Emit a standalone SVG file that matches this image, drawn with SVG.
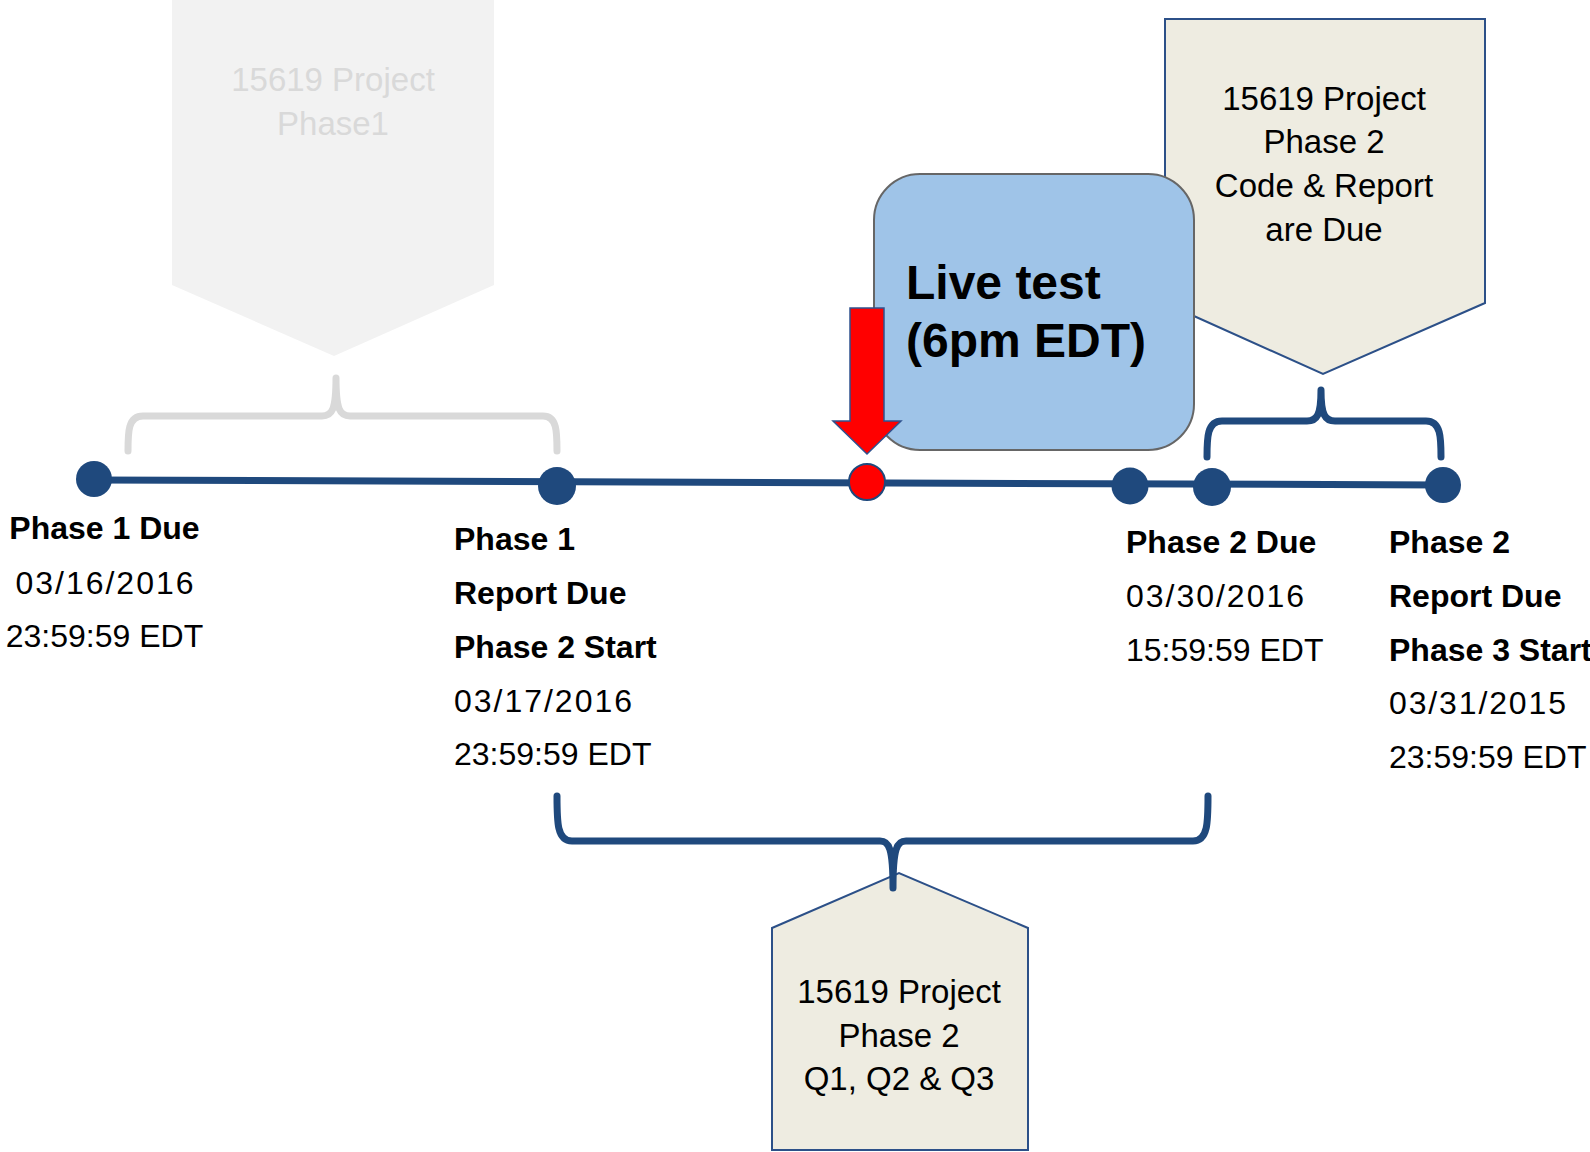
<svg xmlns="http://www.w3.org/2000/svg" width="1590" height="1152" viewBox="0 0 1590 1152">
  <style>
    .lbl { font-family: "Liberation Sans", Arial, sans-serif; font-size: 32px; fill: #000; }
    .b { font-weight: bold; }
    .box { font-family: "Liberation Sans", Arial, sans-serif; font-size: 33px; fill: #000; text-anchor: middle; }
    .ghost { fill: #d9d9d9; }
    .brace { fill: none; stroke-width: 7; stroke-linecap: round; stroke-linejoin: round; }
    .navy { stroke: #1f497d; }
    .grey { stroke: #d9d9d9; }
    .dot { fill: #1f497d; }
  </style>

  <!-- faded callout for phase 1 -->
  <g id="phase1-callout">
    <polygon points="172,0 494,0 494,285 334,356 172,285" fill="#f2f2f2"/>
    <text class="box ghost" x="333" y="91">15619 Project</text>
    <text class="box ghost" x="333" y="135">Phase1</text>
  </g>

  <!-- callout for phase 2 code and report -->
  <g id="phase2-due-callout">
    <polygon points="1165,19 1485,19 1485,303 1323,374 1165,303" fill="#eeece1" stroke="#2c5088" stroke-width="2"/>
    <text class="box" x="1324" y="110">15619 Project</text>
    <text class="box" x="1324" y="153">Phase 2</text>
    <text class="box" x="1324" y="197">Code &amp; Report</text>
    <text class="box" x="1324" y="241">are Due</text>
  </g>

  <!-- live test box -->
  <g id="live-test">
    <rect x="874" y="174" width="320" height="276" rx="46" ry="46" fill="#9fc4e8" stroke="#666" stroke-width="2"/>
    <text x="906" y="299" font-family="Liberation Sans, Arial, sans-serif" font-size="48" font-weight="bold" fill="#000">Live test</text>
    <text x="906" y="357" font-family="Liberation Sans, Arial, sans-serif" font-size="48" font-weight="bold" fill="#000">(6pm EDT)</text>
  </g>

  <!-- bottom callout for phase 2 queries -->
  <g id="phase2-q-callout">
    <polygon points="772,928 899,873 1028,928 1028,1150 772,1150" fill="#eeece1" stroke="#2c5088" stroke-width="2"/>
    <text class="box" x="899" y="1003">15619 Project</text>
    <text class="box" x="899" y="1047">Phase 2</text>
    <text class="box" x="899" y="1090">Q1, Q2 &amp; Q3</text>
  </g>

  <g id="connectors">
    <!-- timeline -->
    <line x1="94" y1="480" x2="1443" y2="485" stroke="#1f497d" stroke-width="7"/>
    <!-- braces -->
    <path class="brace grey" d="M128,451 C128,432 128,416 143,416 L322,416 C332,416 336,410 336,378 C336,410 340,416 350,416 L543,416 C557,416 557,432 557,451"/>
    <path class="brace navy" d="M1207,457 C1207,438 1207,421 1222,421 L1307,421 C1317,421 1321,415 1321,390 C1321,415 1325,421 1335,421 L1426,421 C1441,421 1441,438 1441,457"/>
    <path class="brace navy" d="M557,796 C557,822 557,841 572,841 L880,841 C889,841 893,848 893,888 C893,848 897,841 906,841 L1193,841 C1208,841 1208,822 1208,796"/>
    <!-- red marker arrow -->
    <path d="M850,308 L884,308 L884,421 L901,421 L867,454 L833,421 L850,421 Z" fill="#ff0000" stroke="#2f528f" stroke-width="1.5"/>
  </g>

  <!-- timeline milestones -->
  <g id="m-phase1-due">
    <circle class="dot" cx="94" cy="479" r="18"/>
    <text class="lbl b" x="104.5" y="539" text-anchor="middle">Phase 1 Due</text>
    <text class="lbl" x="104.5" y="594" text-anchor="middle" textLength="178" lengthAdjust="spacing">03/16/2016</text>
    <text class="lbl" x="104.5" y="647" text-anchor="middle">23:59:59 EDT</text>
  </g>

  <g id="m-phase1-report">
    <circle class="dot" cx="557" cy="486" r="19"/>
    <text class="lbl b" x="454" y="550">Phase 1</text>
    <text class="lbl b" x="454" y="604">Report Due</text>
    <text class="lbl b" x="454" y="658">Phase 2 Start</text>
    <text class="lbl" x="454" y="712" textLength="178" lengthAdjust="spacing">03/17/2016</text>
    <text class="lbl" x="454" y="765">23:59:59 EDT</text>
  </g>

  <g id="m-live-test">
    <circle cx="867" cy="482" r="18" fill="#ff0000" stroke="#1f497d" stroke-width="2"/>
  </g>

  <g id="m-phase2-due">
    <circle class="dot" cx="1130" cy="486" r="18.5"/>
    <circle class="dot" cx="1212" cy="487" r="19"/>
    <text class="lbl b" x="1126" y="553">Phase 2 Due</text>
    <text class="lbl" x="1126" y="607" textLength="178" lengthAdjust="spacing">03/30/2016</text>
    <text class="lbl" x="1126" y="661">15:59:59 EDT</text>
  </g>

  <g id="m-phase2-report">
    <circle class="dot" cx="1443" cy="485" r="18"/>
    <text class="lbl b" x="1389" y="553">Phase 2</text>
    <text class="lbl b" x="1389" y="607">Report Due</text>
    <text class="lbl b" x="1389" y="661">Phase 3 Start</text>
    <text class="lbl" x="1389" y="714" textLength="177" lengthAdjust="spacing">03/31/2015</text>
    <text class="lbl" x="1389" y="768">23:59:59 EDT</text>
  </g>
</svg>
